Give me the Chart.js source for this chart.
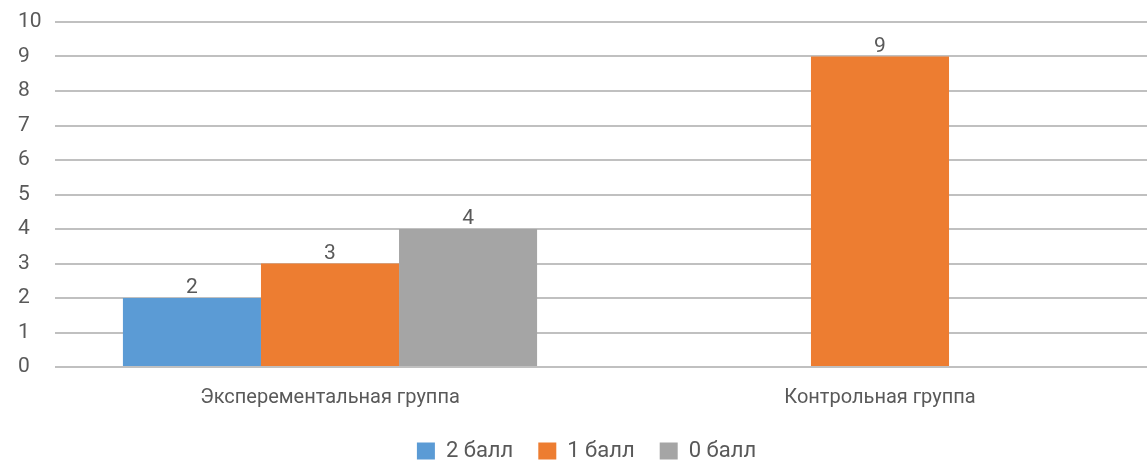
<!DOCTYPE html>
<html lang="ru">
<head>
    <meta charset="UTF-8">
    <title>Результаты групп</title>
    <script src="https://cdn.jsdelivr.net/npm/chart.js"></script>
    <style>
        html, body {
            margin: 0;
            padding: 0;
            background: #ffffff;
            overflow: hidden;
        }
        .chart-container {
            position: relative;
            width: 1155px;
            height: 462px;
        }
    </style>
</head>
<body>
    <div class="chart-container">
        <canvas id="groupChart"></canvas>
    </div>

    <script>
        // Данные диаграммы
        const categories = ['Эксперементальная группа', 'Контрольная группа'];
        const seriesNames = ['2 балл', '1 балл', '0 балл'];
        const score2 = [2, null];
        const score1 = [3, 9];
        const score0 = [4, null];
        const yTicks = [0, 1, 2, 3, 4, 5, 6, 7, 8, 9, 10];

        const colors = ['#5b9bd5', '#ed7d31', '#a5a5a5'];
        const textColor = '#595959';
        const fontFamily = "Roboto, 'Open Sans', sans-serif";
        const fontSize = 21;

        // Подписи значений над столбцами
        const valueLabels = {
            id: 'valueLabels',
            afterDatasetsDraw(chart) {
                const ctx = chart.ctx;
                ctx.save();
                ctx.fillStyle = textColor;
                ctx.font = fontSize + 'px ' + fontFamily;
                ctx.textAlign = 'center';
                ctx.textBaseline = 'alphabetic';
                chart.data.datasets.forEach((ds, i) => {
                    const meta = chart.getDatasetMeta(i);
                    meta.data.forEach((bar, j) => {
                        const v = ds.data[j];
                        if (v === null || v === undefined) return;
                        ctx.fillText(String(v), bar.x, bar.y - 5);
                    });
                });
                ctx.restore();
            }
        };

        new Chart(document.getElementById('groupChart'), {
            type: 'bar',
            data: {
                labels: categories,
                datasets: [
                    { label: seriesNames[0], data: score2, backgroundColor: colors[0] },
                    { label: seriesNames[1], data: score1, backgroundColor: colors[1] },
                    { label: seriesNames[2], data: score0, backgroundColor: colors[2] }
                ]
            },
            options: {
                responsive: true,
                maintainAspectRatio: false,
                animation: false,
                categoryPercentage: 0.753,
                barPercentage: 1,
                layout: {
                    padding: { top: 22, left: 18, right: 0, bottom: 0 }
                },
                plugins: {
                    legend: {
                        position: 'bottom',
                        maxHeight: 47,
                        labels: {
                            color: textColor,
                            font: { family: fontFamily, size: 22 },
                            boxWidth: 18,
                            boxHeight: 17,
                            padding: 25
                        }
                    },
                    tooltip: { enabled: false }
                },
                scales: {
                    x: {
                        grid: { display: false, drawTicks: false },
                        border: { display: false },
                        ticks: {
                            color: textColor,
                            font: { family: fontFamily, size: 20 },
                            maxRotation: 0,
                            padding: 19
                        },
                        afterFit(axis) {
                            axis.height = 48;
                        }
                    },
                    y: {
                        min: 0,
                        max: 10,
                        afterBuildTicks(axis) {
                            axis.ticks = yTicks.map(v => ({ value: v }));
                        },
                        grid: {
                            color: '#c0c0c0',
                            lineWidth: 2,
                            drawTicks: false
                        },
                        border: { display: false },
                        ticks: {
                            color: textColor,
                            font: { family: fontFamily, size: fontSize },
                            crossAlign: 'far',
                            padding: 1
                        },
                        afterFit(axis) {
                            axis.width = 37;
                        }
                    }
                }
            },
            plugins: [valueLabels]
        });
    </script>
</body>
</html>
